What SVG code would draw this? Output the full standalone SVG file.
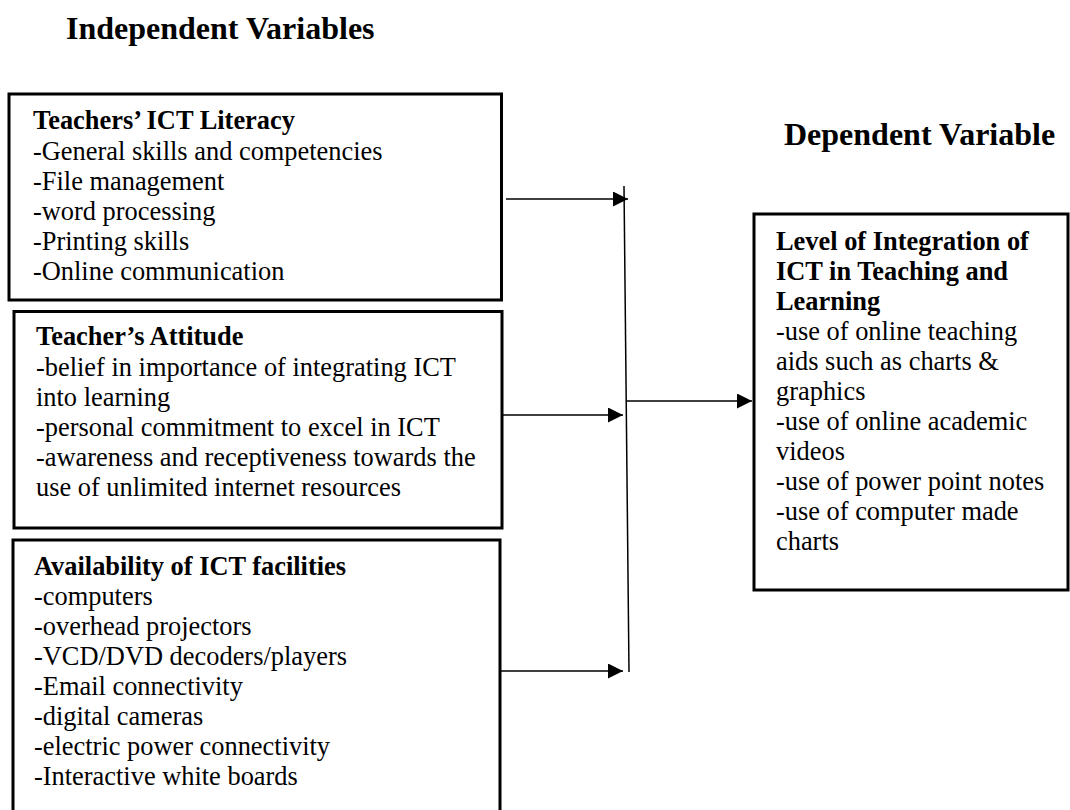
<svg xmlns="http://www.w3.org/2000/svg" width="1070" height="810" viewBox="0 0 1070 810">
<style>
  text { font-family: "Liberation Serif", "Times New Roman", serif; fill: #000; }
  .hdr { font-size: 32px; font-weight: bold; }
  .t { font-size: 26.4px; }
  .b { font-weight: bold; }
  .box { fill: #fff; stroke: #000; stroke-width: 3; }
  .con { stroke: #000; stroke-width: 1.5; fill: none; }
</style>
<defs>
  <marker id="ah" viewBox="0 0 15 15" refX="15" refY="7.5" markerWidth="15" markerHeight="15" markerUnits="userSpaceOnUse" orient="auto">
    <path d="M0,0 L15,7.5 L0,15 Z" fill="#000"/>
  </marker>
</defs>
<rect width="1070" height="810" fill="#fff"/>
<g id="header-independent"><text class="hdr" x="66" y="39">Independent Variables</text></g>
<g id="header-dependent"><text class="hdr" x="784" y="145">Dependent Variable</text></g>

<g id="node-literacy">
  <rect class="box" x="9" y="94" width="492.5" height="206"/>
  <text class="t">
    <tspan class="b" x="33" y="129">Teachers’ ICT Literacy</tspan>
    <tspan x="33" y="160">-General skills and competencies</tspan>
    <tspan x="33" y="190">-File management</tspan>
    <tspan x="33" y="220">-word processing</tspan>
    <tspan x="33" y="250">-Printing skills</tspan>
    <tspan x="33" y="280">-Online communication</tspan>
  </text>
</g>

<g id="node-attitude">
  <rect class="box" x="14" y="311.5" width="488" height="216.5"/>
  <text class="t">
    <tspan class="b" x="36" y="345">Teacher’s Attitude</tspan>
    <tspan x="36" y="376">-belief in importance of integrating ICT</tspan>
    <tspan x="36" y="406">into learning</tspan>
    <tspan x="36" y="436">-personal commitment to excel in ICT</tspan>
    <tspan x="36" y="466">-awareness and receptiveness towards the</tspan>
    <tspan x="36" y="496">use of unlimited internet resources</tspan>
  </text>
</g>

<g id="node-facilities">
  <path class="box" d="M13,815 L13,540 L500,540 L500,815"/>
  <text class="t">
    <tspan class="b" x="34" y="575">Availability of ICT facilities</tspan>
    <tspan x="34" y="605">-computers</tspan>
    <tspan x="34" y="635">-overhead projectors</tspan>
    <tspan x="34" y="665">-VCD/DVD decoders/players</tspan>
    <tspan x="34" y="695">-Email connectivity</tspan>
    <tspan x="34" y="725">-digital cameras</tspan>
    <tspan x="34" y="755">-electric power connectivity</tspan>
    <tspan x="34" y="785">-Interactive white boards</tspan>
  </text>
</g>

<g id="node-integration">
  <rect class="box" x="754" y="214" width="314" height="376"/>
  <text class="t">
    <tspan class="b" x="776" y="250">Level of Integration of</tspan>
    <tspan class="b" x="776" y="280">ICT in Teaching and</tspan>
    <tspan class="b" x="776" y="310">Learning</tspan>
    <tspan x="776" y="340">-use of online teaching</tspan>
    <tspan x="776" y="370">aids such as charts &amp;</tspan>
    <tspan x="776" y="400">graphics</tspan>
    <tspan x="776" y="430">-use of online academic</tspan>
    <tspan x="776" y="460">videos</tspan>
    <tspan x="776" y="490">-use of power point notes</tspan>
    <tspan x="776" y="520">-use of computer made</tspan>
    <tspan x="776" y="550">charts</tspan>
  </text>
</g>

<g id="connectors">
  <line class="con" x1="624" y1="186" x2="629" y2="672"/>
  <line class="con" x1="506" y1="199" x2="628" y2="199" marker-end="url(#ah)"/>
  <line class="con" x1="502" y1="415" x2="623" y2="415" marker-end="url(#ah)"/>
  <line class="con" x1="501" y1="671" x2="623" y2="671" marker-end="url(#ah)"/>
  <line class="con" x1="626" y1="401" x2="752" y2="401" marker-end="url(#ah)"/>
</g>
</svg>
